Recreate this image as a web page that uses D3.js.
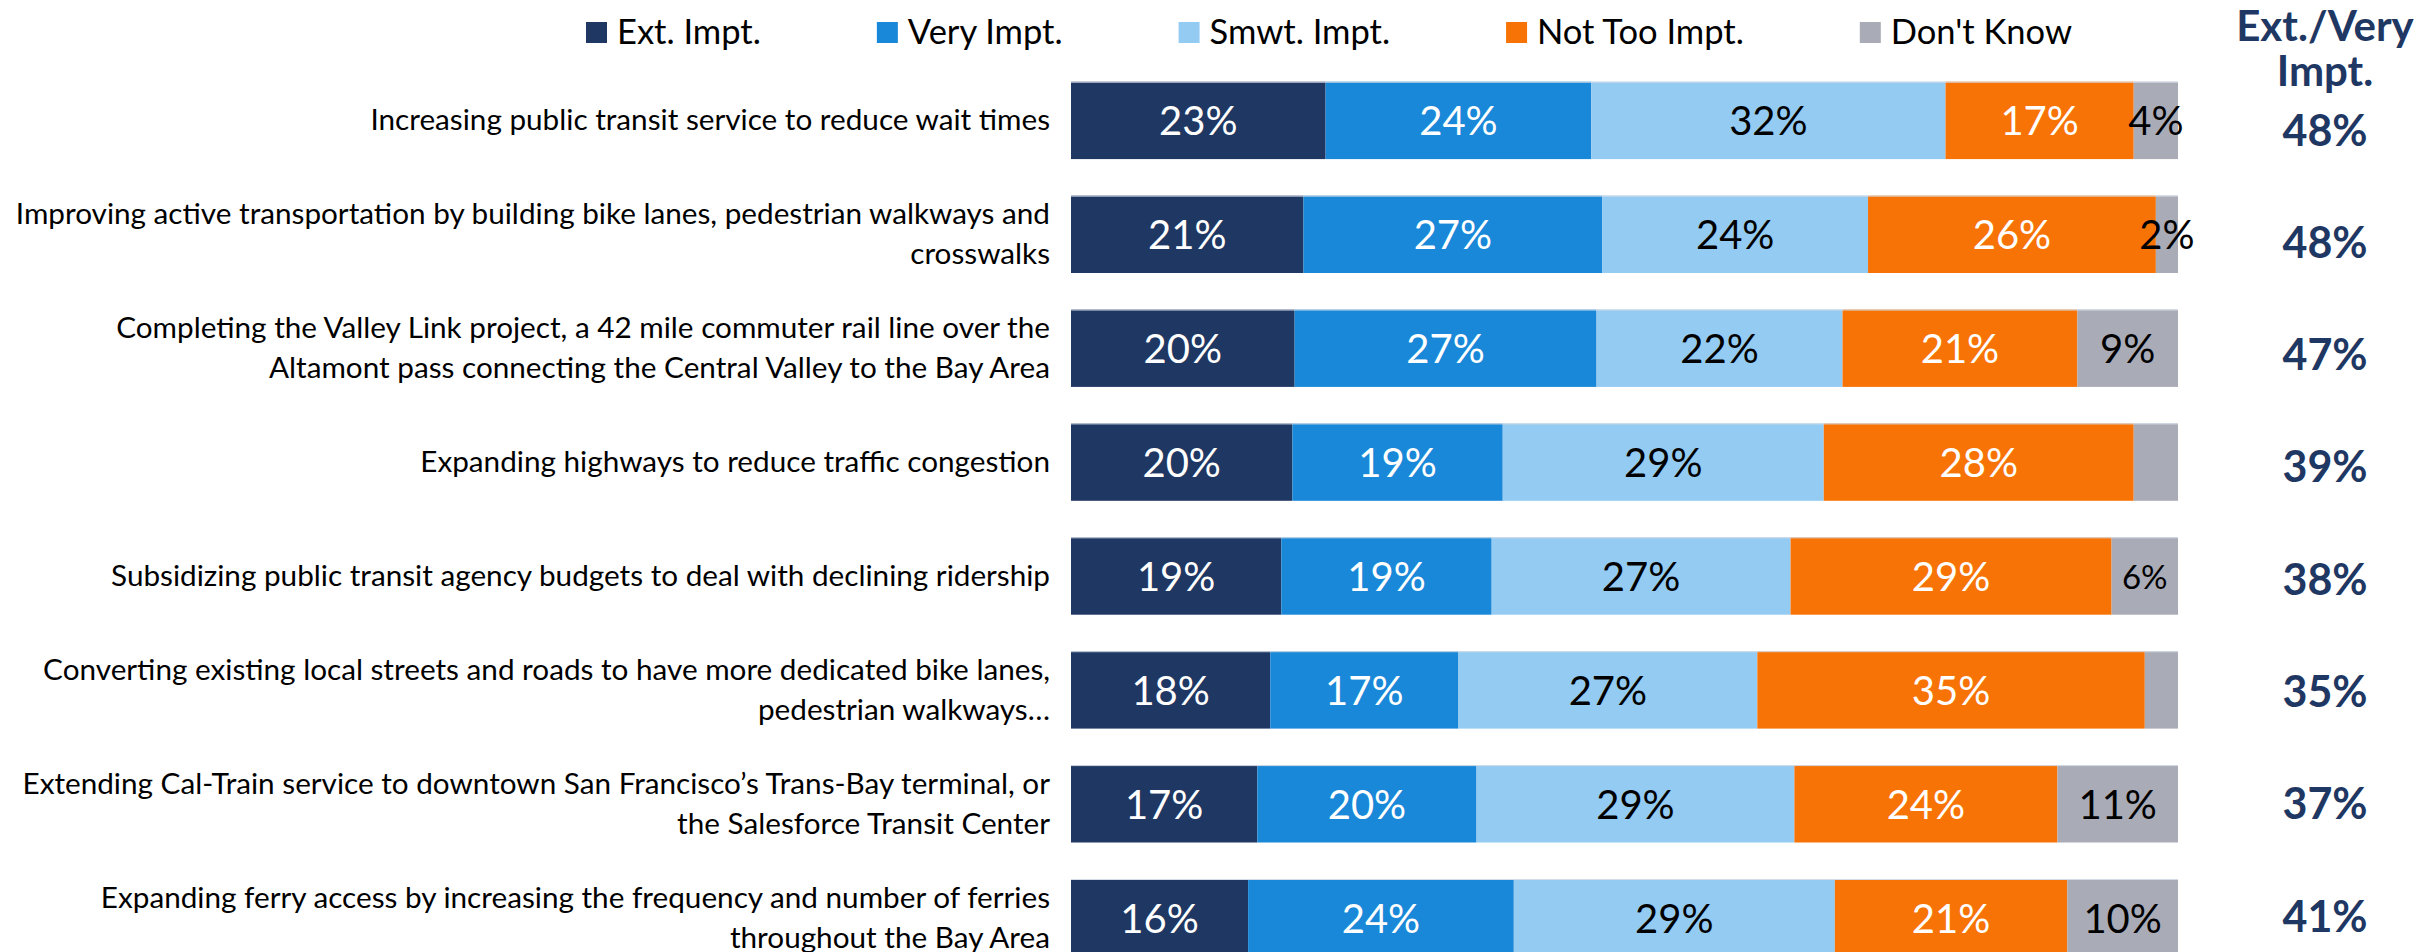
<html>
    <head>
        <title>Transportation priorities</title>
        <style>
            body { margin: 0; background: #fff; }
            svg { display: block; }
            .chart text { font-family: Lato, "Open Sans", sans-serif; }
            .chart .cat text { fill: #000; font-size: 29.7px; text-anchor: end; }
            .chart .legend text { fill: #000; font-size: 34.5px; }
            .chart .seg-label { font-size: 40px; text-anchor: middle; dominant-baseline: central; }
            .chart .total { fill: #1f3763; font-weight: bold; text-anchor: middle; }
        </style>
    </head>
    <body>
        <svg class="chart" width="2435" height="952"></svg>
        <script src="https://d3js.org/d3.v7.min.js"></script>
        <script>

            // values
            var categories = [
                "Increasing public transit service to reduce wait times",
                "Improving active transportation by building bike lanes, pedestrian walkways and\ncrosswalks",
                "Completing the Valley Link project, a 42 mile commuter rail line over the\nAltamont pass connecting the Central Valley to the Bay Area",
                "Expanding highways to reduce traffic congestion",
                "Subsidizing public transit agency budgets to deal with declining ridership",
                "Converting existing local streets and roads to have more dedicated bike lanes,\npedestrian walkways\u2026",
                "Extending Cal-Train service to downtown San Francisco\u2019s Trans-Bay terminal, or\nthe Salesforce Transit Center",
                "Expanding ferry access by increasing the frequency and number of ferries\nthroughout the Bay Area"
            ];
            var seriesNames = ["Ext. Impt.", "Very Impt.", "Smwt. Impt.", "Not Too Impt.", "Don't Know"];
            var extImpt    = [23, 21, 20, 20, 19, 18, 17, 16];
            var veryImpt   = [24, 27, 27, 19, 19, 17, 20, 24];
            var smwtImpt   = [32, 24, 22, 29, 27, 27, 29, 29];
            var notTooImpt = [17, 26, 21, 28, 29, 35, 24, 21];
            var dontKnow   = [4, 2, 9, 4, 6, 3, 11, 10];
            // the reference leaves two of the small grey segments unlabelled
            var dontKnowLabels = ["4%", "2%", "9%", "", "6%", "", "11%", "10%"];
            var extVeryTotal = [48, 48, 47, 39, 38, 35, 37, 41];

            var keys = ["ext", "very", "smwt", "notToo", "dk"];
            var rows = categories.map(function(c, i) {
                return { cat: c, i: i, ext: extImpt[i], very: veryImpt[i], smwt: smwtImpt[i],
                         notToo: notTooImpt[i], dk: dontKnow[i] };
            });

            var color = d3.scaleOrdinal()
                .domain(keys)
                .range(["#1f3763", "#1988d8", "#93cbf2", "#f87306", "#a9abb7"]);
            var labelColor = { ext: "#fff", very: "#fff", smwt: "#000", notToo: "#fff", dk: "#000" };

            var xScale = d3.scaleLinear().domain([0, 1]).range([1071, 2178]);
            var yScale = d3.scaleBand()
                .domain(d3.range(categories.length))
                .range([81.7, 956.4])
                .paddingInner(0.3205)
                .paddingOuter(0)
                .align(0);
            // the totals column sits on its own slightly tighter spacing
            var yTotal = d3.scalePoint()
                .domain(d3.range(categories.length))
                .range([129, 915]);

            var stack = d3.stack().keys(keys).offset(d3.stackOffsetExpand);
            var series = stack(rows);

            var chart = d3.select(".chart");

            // legend
            var legend = chart.append("g").attr("class", "legend");
            var lx = 586;
            seriesNames.forEach(function(name, k) {
                legend.append("rect")
                    .attr("x", lx).attr("y", 22)
                    .attr("width", 21).attr("height", 21)
                    .style("fill", color(keys[k]));
                var t = legend.append("text")
                    .attr("x", lx + 31).attr("y", 44)
                    .text(name);
                lx += 31 + t.node().getComputedTextLength() + 116;
            });

            // bars
            var layers = chart.selectAll(".layer")
                .data(series)
                .enter()
                .append("g")
                .attr("class", "layer")
                .style("fill", function(s) { return color(s.key); });

            layers.selectAll("rect")
                .data(function(s) { return s; })
                .enter()
                .append("rect")
                .attr("x", function(d) { return xScale(d[0]); })
                .attr("y", function(d) { return yScale(d.data.i); })
                .attr("width", function(d) { return xScale(d[1]) - xScale(d[0]); })
                .attr("height", yScale.bandwidth());

            // light top edge on each bar
            chart.selectAll(".edge")
                .data(rows)
                .enter()
                .append("line")
                .attr("x1", xScale(0)).attr("x2", xScale(1))
                .attr("y1", function(d) { return yScale(d.i) + 0.5; })
                .attr("y2", function(d) { return yScale(d.i) + 0.5; })
                .style("stroke", "#d4dbe6")
                .style("stroke-width", 1);

            // segment labels
            series.forEach(function(s) {
                chart.append("g").selectAll("text")
                    .data(s)
                    .enter()
                    .append("text")
                    .attr("class", "seg-label")
                    .attr("x", function(d) { return (xScale(d[0]) + xScale(d[1])) / 2; })
                    .attr("y", function(d) { return yScale(d.data.i) + yScale.bandwidth() / 2; })
                    .style("fill", labelColor[s.key])
                    .style("font-size", function(d) { return (s.key === "dk" && d.data.i === 4) ? "33px" : null; })
                    .text(function(d) {
                        return s.key === "dk" ? dontKnowLabels[d.data.i] : d.data[s.key] + "%";
                    });
            });

            // category labels
            var cats = chart.append("g").attr("class", "cat");
            rows.forEach(function(r) {
                var lines = r.cat.split("\n");
                var mid = yScale(r.i) + yScale.bandwidth() / 2;
                var t = cats.append("text");
                lines.forEach(function(line, j) {
                    t.append("tspan")
                        .attr("x", 1050)
                        .attr("y", mid + 10 + (j - (lines.length - 1) / 2) * 40)
                        .text(line);
                });
            });

            // Ext./Very column
            chart.append("text").attr("class", "total")
                .attr("x", 2325).attr("y", 41).style("font-size", "42px")
                .text("Ext./Very");
            chart.append("text").attr("class", "total")
                .attr("x", 2325).attr("y", 86).style("font-size", "42px")
                .text("Impt.");
            chart.selectAll(".tot")
                .data(extVeryTotal)
                .enter()
                .append("text")
                .attr("class", "total")
                .attr("x", 2325)
                .attr("y", function(d, i) { return yTotal(i); })
                .attr("dominant-baseline", "central")
                .style("font-size", "43px")
                .text(function(d) { return d + "%"; });

        </script>
    </body>
</html>
